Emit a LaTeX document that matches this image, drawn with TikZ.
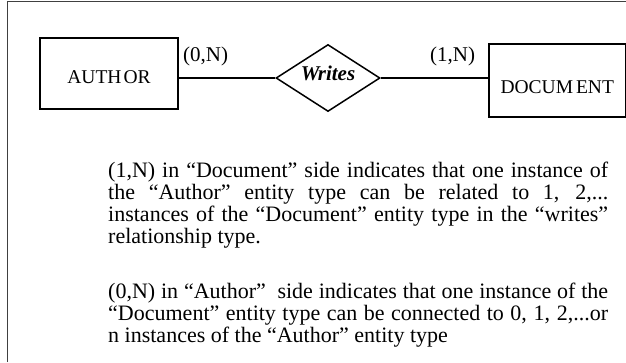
\documentclass[tikz,border=0pt]{standalone}
\usepackage{fontspec}
\setmainfont{Liberation Serif}
\usetikzlibrary{shapes.geometric}
\begin{document}
\begin{tikzpicture}[x=1pt,y=-1pt,
  entity/.style={draw, line width=1.5pt, inner sep=0pt, font=\fontsize{19.5pt}{20pt}\selectfont},
  rel/.style={draw, diamond, line width=1.5pt, inner sep=0pt, aspect=1.55, minimum width=104pt, minimum height=67pt, font=\fontsize{21pt}{22pt}\selectfont\bfseries\itshape, text height=14pt, text depth=8.4pt},
  card/.style={anchor=base west, inner sep=0pt, font=\fontsize{21pt}{22pt}\selectfont},
  conn/.style={line width=1.2pt},
  para/.style={anchor=base west, inner sep=0pt, align=left, font=\fontsize{22pt}{22pt}\selectfont},
  framel/.style={line width=1pt, draw=black!75}]
\useasboundingbox (0,0) rectangle (626,362);
\draw[framel] (7.5,362) -- (7.5,1.5) -- (626,1.5);
\node[entity, minimum width=138pt, minimum height=71pt, text height=19.9pt, text depth=0pt] (author) at (109,73.5) {AUTH\kern2pt OR};
\node[entity, minimum width=136.5pt, minimum height=73pt, text height=25.3pt, text depth=0pt] (document) at (557.25,80.5) {DOCUM\kern3pt ENT};
\node[rel] (writes) at (328,78) {Writes};
\draw[conn] (writes.west -| author.east) -- (writes.west);
\draw[conn] (writes.east) -- (writes.east -| document.west);
\node[card] (c0) at (183,61) {(0,N)};
\node[card] (c1) at (430,61) {(1,N)};
\node[para] (p1) at (108,243) {%
\makebox[500pt][s]{(1,N) in “Document” side indicates that one instance of}\\
\makebox[500pt][s]{the “Author” entity type can be related to 1, 2,...}\\
\makebox[500pt][s]{instances of the “Document” entity type in the “writes”}\\
relationship type.};
\node[para] (p2) at (108,342) {%
\makebox[500pt][s]{(0,N) in “Author”\ \ side indicates that one instance of the}\\
\makebox[500pt][s]{“Document” entity type can be connected to 0, 1, 2,...or}\\
n instances of the “Author” entity type};
\end{tikzpicture}
\end{document}
